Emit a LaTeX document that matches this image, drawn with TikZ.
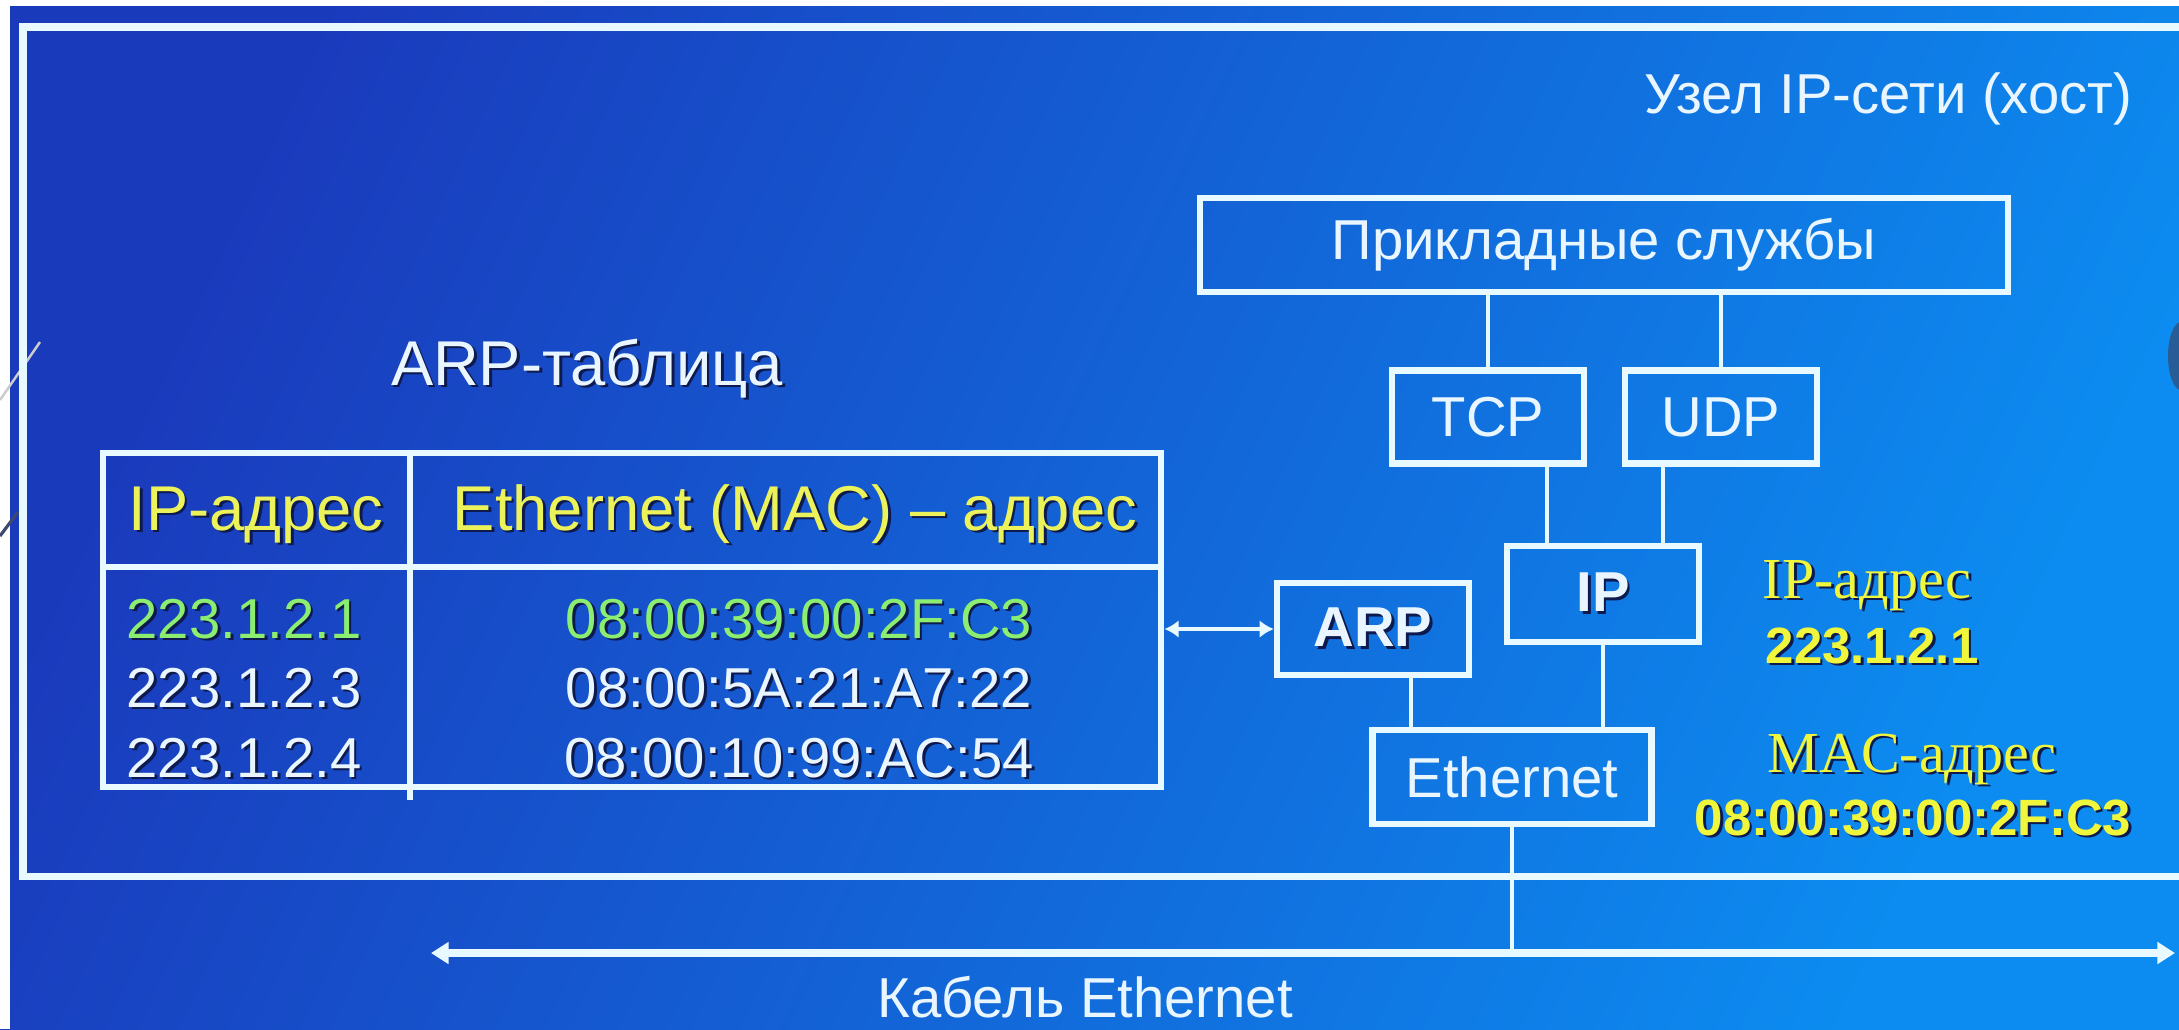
\documentclass[tikz,border=0pt]{standalone}
\usepackage{fontspec}
\setmainfont{Liberation Sans}
\newfontfamily\labelserif{Liberation Serif}
\usetikzlibrary{arrows.meta}

\definecolor{bgleft}{RGB}{26,58,188}
\definecolor{bgright}{RGB}{12,140,240}
\definecolor{wline}{RGB}{232,250,255}
\definecolor{wtext}{RGB}{234,246,255}
\definecolor{ytext}{RGB}{236,242,90}
\definecolor{ylab}{RGB}{240,246,60}
\definecolor{gtext}{RGB}{140,238,112}
\definecolor{shadowc}{RGB}{14,26,78}
\definecolor{edgeknob}{RGB}{40,92,150}

% text with a small dark drop shadow
\newcommand{\shd}[1]{\rlap{\kern0.8pt\raisebox{-0.8pt}{\color{shadowc}#1}}#1}
\newcommand{\fsz}[1]{\fontsize{#1}{#1}\selectfont}

\tikzset{
  box/.style={draw=wline, line width=1.8pt, inner sep=0pt, text=wtext, font=\fsz{16pt}},
  link/.style={draw=wline, line width=1.3pt},
  frameline/.style={draw=wline, line width=2pt},
  cable/.style={draw=wline, line width=2.3pt, {Triangle[length=5pt,width=6pt]}-{Triangle[length=5pt,width=6pt]}},
  lookup/.style={draw=wline, line width=1.1pt, {Latex[length=4pt,width=5pt]}-{Latex[length=4pt,width=5pt]}},
  txt/.style={inner sep=0pt, text=wtext},
}

\begin{document}
\begin{tikzpicture}[x=0.01cm, y=-0.01cm]
\useasboundingbox (0,0) rectangle (2179,1029);
\clip (0,0) rectangle (2179,1029);

% background
\shade[left color=bgleft, right color=bgright, shading angle=65] (0,0) rectangle (2179,1029);
\fill[white] (0,0) rectangle (2179,6);
\fill[white] (0,0) rectangle (10,1029);
\draw[gray!40, line width=0.7pt] (0,400) -- (40,342);
\draw[shadowc!80, line width=0.9pt] (0,536) -- (18,512);
\fill[edgeknob] (2181,356) ellipse (13 and 34);

% host frame
\draw[frameline] (2200,27) -- (23,27) -- (23,876) -- (2200,876);
\node[txt, anchor=base east, font=\fsz{16pt}] (host) at (2133,113) {Узел IP-сети (хост)};

% protocol stack
\node[box, minimum width=8.07cm, minimum height=0.94cm] (prik) at (1604,245) {Прикладные службы};
\node[box, minimum width=1.92cm, minimum height=0.93cm] (tcp) at (1488,417) {TCP};
\node[box, minimum width=1.92cm, minimum height=0.93cm] (udp) at (1721,417) {UDP};
\node[box, minimum width=1.92cm, minimum height=0.96cm, font=\fsz{16pt}\bfseries] (ip) at (1603,594) {\shd{IP}};
\node[box, minimum width=1.92cm, minimum height=0.92cm, font=\fsz{16pt}\bfseries] (arp) at (1373,629) {\shd{ARP}};
\node[box, minimum width=2.79cm, minimum height=0.94cm] (eth) at (1512,777) {Ethernet};

\coordinate (xa) at (1547,0);
\coordinate (xb) at (1663,0);
\coordinate (xc) at (1411,0);
\draw[link] (prik.south -| tcp) -- (tcp.north);
\draw[link] (prik.south -| udp) -- (udp.north);
\draw[link] (tcp.south -| xa) -- (ip.north -| xa);
\draw[link] (udp.south -| xb) -- (ip.north -| xb);
\draw[link] (arp.south -| xc) -- (eth.north -| xc);
\draw[link] (ip.south) -- (eth.north -| ip);

% cable
\coordinate (cabL) at (431,953);
\coordinate (cabR) at (2175,953);
\draw[cable] (cabL) -- (cabR);
\draw[link] (eth.south) -- (eth.south |- cabL);
\node[txt, anchor=base, font=\fsz{16pt}] (cabtxt) at (1085,1017) {Кабель Ethernet};

% addresses of this host
\node[txt, anchor=base, font=\labelserif\fsz{16.5pt}, text=ylab] (iplab) at (1867,598) {\shd{IP-адрес}};
\node[txt, anchor=base west, font=\bfseries\fsz{14.5pt}, text=ylab] (ipval) at (1765,663) {\shd{223.1.2.1}};
\node[txt, anchor=base, font=\labelserif\fsz{16.5pt}, text=ylab] (maclab) at (1912,772) {\shd{MAC-адрес}};
\node[txt, anchor=base, font=\bfseries\fsz{14.5pt}, text=ylab] (macval) at (1913,835) {\shd{08:00:39:00:2F:C3}};

% ARP table
\node[txt, anchor=base, font=\fsz{18pt}] (arptitle) at (587,385) {\shd{ARP-таблица}};
\node[draw=wline, line width=1.8pt, minimum width=10.58cm, minimum height=3.34cm, inner sep=0pt] (tbl) at (632,620) {};
\coordinate (hsep) at (0,567);
\coordinate (colx) at (410,800);
\draw[link, line width=1.8pt] (tbl.west |- hsep) -- (tbl.east |- hsep);
\draw[link, line width=1.8pt] (tbl.north -| colx) -- (colx);

\node[txt, anchor=base, font=\fsz{18pt}, text=ytext] (h1) at (256,530) {\shd{IP-адрес}};
\node[txt, anchor=base, font=\fsz{18pt}, text=ytext] (h2) at (795,530) {\shd{Ethernet (MAC) – адрес}};

\node[txt, anchor=base west, font=\fsz{16pt}, text=gtext] (ip1) at (126,638) {\shd{223.1.2.1}};
\node[txt, anchor=base west, font=\fsz{16pt}] (ip2) at (126,707) {\shd{223.1.2.3}};
\node[txt, anchor=base west, font=\fsz{16pt}] (ip3) at (126,777) {\shd{223.1.2.4}};
\node[txt, anchor=base, font=\fsz{16pt}, text=gtext] (mac1) at (799,638) {\shd{08:00:39:00:2F:C3}};
\node[txt, anchor=base, font=\fsz{16pt}] (mac2) at (799,707) {\shd{08:00:5A:21:A7:22}};
\node[txt, anchor=base, font=\fsz{16pt}] (mac3) at (799,777) {\shd{08:00:10:99:AC:54}};

\draw[lookup] (tbl.east |- arp) -- (arp.west);
\end{tikzpicture}
\end{document}
